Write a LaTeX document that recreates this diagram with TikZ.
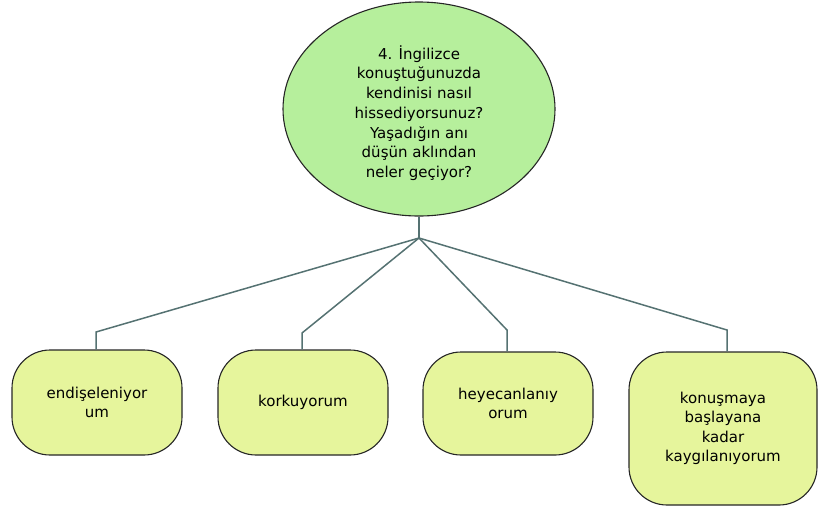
\documentclass[tikz,border=0pt]{standalone}
\usepackage{fontspec}
\setmainfont{DejaVu Sans}
\usetikzlibrary{shapes.geometric}
\definecolor{topfill}{HTML}{B6EF9C}
\definecolor{boxfill}{HTML}{E6F59C}
\definecolor{linkcol}{HTML}{557272}
\begin{document}
\begin{tikzpicture}[x=1pt,y=-1pt,
  question/.style={ellipse,draw=black!85,line width=1.1pt,fill=topfill,
    minimum width=272pt,minimum height=214pt,inner sep=0pt},
  qtext/.style={align=center,inner sep=0pt,font=\fontsize{15}{19.7}\selectfont},
  answer/.style={rectangle,rounded corners=38pt,draw=black!85,line width=1.1pt,
    fill=boxfill,inner sep=0pt,align=center,font=\fontsize{15}{19.5}\selectfont},
  link/.style={draw=linkcol,line width=1.5pt}]
\useasboundingbox (0,0) rectangle (818,507);
\node[question] (q) at (419,109) {};
\node[qtext] (qt) at (419,113)
  {4. İngilizce\\konuştuğunuzda\\kendinisi nasıl\\hissediyorsunuz?\\Yaşadığın anı\\düşün aklından\\neler geçiyor?};
\node[answer,minimum width=170pt,minimum height=105pt] (a1) at (97,402.5) {endişeleniyor\\um};
\node[answer,minimum width=170pt,minimum height=105pt] (a2) at (303,402.5) {korkuyorum};
\node[answer,minimum width=170pt,minimum height=103pt] (a3) at (508,403.5) {heyecanlanıy\\orum};
\node[answer,minimum width=188pt,minimum height=153pt] (a4) at (723,428.5) {konuşmaya\\başlayana\\kadar\\kaygılanıyorum};
\coordinate (j) at (419,238);
\coordinate (e1) at (96,332);
\coordinate (e2) at (302,333);
\coordinate (e3) at (507,330);
\coordinate (e4) at (727,330);
\draw[link] (q.south) -- (j);
\draw[link] (j) -- (e1) -- (e1 |- a1.north);
\draw[link] (j) -- (e2) -- (e2 |- a2.north);
\draw[link] (j) -- (e3) -- (e3 |- a3.north);
\draw[link] (j) -- (e4) -- (e4 |- a4.north);
\end{tikzpicture}
\end{document}
